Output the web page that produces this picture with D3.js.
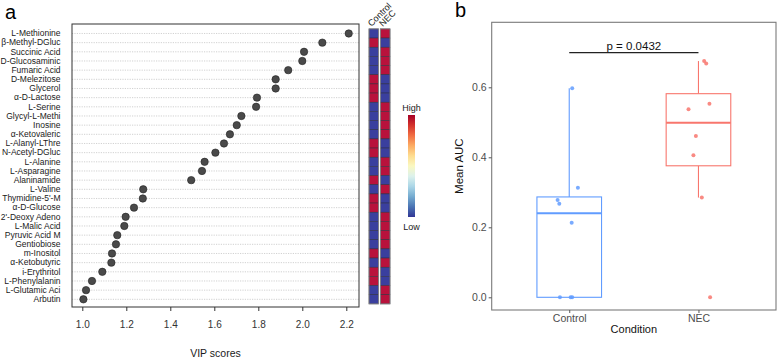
<!DOCTYPE html>
<html>
<head>
<meta charset="utf-8">
<script src="https://cdn.jsdelivr.net/npm/d3@7"></script>
<style>
body{margin:0;background:#fff;font-family:"Liberation Sans",Arial,sans-serif}
</style>
</head>
<body>
<div id="chart"></div>
<script>
// panel a data
const metabolites=["L-Methionine","β-Methyl-DGluc","Succinic Acid","D-Glucosaminic","Fumaric Acid","D-Melezitose","Glycerol","α-D-Lactose","L-Serine","Glycyl-L-Methi","Inosine","α-Ketovaleric","L-Alanyl-LThre","N-Acetyl-DGluc","L-Alanine","L-Asparagine","Alaninamide","L-Valine","Thymidine-5'-M","α-D-Glucose","2'-Deoxy Adeno","L-Malic Acid","Pyruvic Acid M","Gentiobiose","m-Inositol","α-Ketobutyric","i-Erythritol","L-Phenylalanin","L-Glutamic Aci","Arbutin"];
const vipScores=[2.211,2.091,2.008,2.0,1.936,1.879,1.879,1.794,1.79,1.723,1.702,1.671,1.644,1.605,1.556,1.544,1.495,1.277,1.275,1.235,1.197,1.191,1.159,1.153,1.135,1.132,1.091,1.044,1.017,1.005];
const heatControl=[-1,1,-1,-1,-1,1,1,1,-1,-1,-1,-1,1,1,-1,-1,1,-1,1,1,-1,-1,-1,-1,1,-1,1,1,-1,-1];
const heatNEC=[1,-1,1,1,1,-1,-1,-1,1,1,1,1,-1,-1,1,1,-1,1,-1,-1,1,1,1,1,-1,1,-1,-1,1,1];
const vipTicks=[1.0,1.2,1.4,1.6,1.8,2.0,2.2];
const heatGroups=["Control","NEC"];

// panel b data
const conditions=["Control","NEC"];
const aucControl=[0.597,0.313,0.278,0.267,0.213,0,0,0];
const aucNEC=[0.675,0.668,0.553,0.537,0.461,0.406,0.285,0];
const jitterControl=[0.023,0.067,-0.09,-0.077,0.019,-0.072,0.011,0.023];
const jitterNEC=[0.044,0.06,0.085,-0.077,-0.02,-0.039,0.026,0.09];
const aucTicks=[0,0.2,0.4,0.6];
const pLabel="p = 0.0432";
const condColors={"Control":"#619CFF","NEC":"#F8766D"};

const svg=d3.select("#chart").append("svg").attr("width",777).attr("height",359);

// ---------- panel a ----------
const pa={l:72,t:24,r:359,b:307};
const x=d3.scaleLinear().domain([1,2.2]).range([82.3,346.3]);
const y=d3.scaleBand().domain(metabolites).range([28.9,303.9]);
const rows=metabolites.map((m,i)=>({name:m,vip:vipScores[i],Control:heatControl[i],NEC:heatNEC[i]}));

svg.append("text").attr("x",5).attr("y",19).attr("font-size",20).text("a");

svg.append("g").selectAll("line").data(rows).join("line")
  .attr("x1",pa.l).attr("x2",pa.r)
  .attr("y1",d=>y(d.name)+y.bandwidth()/2).attr("y2",d=>y(d.name)+y.bandwidth()/2)
  .attr("stroke","#bdbdbd").attr("stroke-width",0.7).attr("stroke-dasharray","1.2 1.2");

svg.append("rect").attr("x",pa.l).attr("y",pa.t).attr("width",pa.r-pa.l).attr("height",pa.b-pa.t)
  .attr("fill","none").attr("stroke","#333").attr("stroke-width",1);

svg.append("g").selectAll("circle").data(rows).join("circle")
  .attr("cx",d=>x(d.vip)).attr("cy",d=>y(d.name)+y.bandwidth()/2).attr("r",3.7)
  .attr("fill","#4a4a4a").attr("stroke","#222").attr("stroke-width",0.6);

svg.append("g").attr("transform",`translate(${pa.l},0)`)
  .call(d3.axisLeft(y).tickSize(0).tickPadding(11.5))
  .call(s=>s.select(".domain").remove())
  .call(s=>s.selectAll("text").attr("font-size",8.5).attr("fill","#1a1a1a").attr("font-family","Liberation Sans, Arial, sans-serif"));

svg.append("g").attr("transform",`translate(0,${pa.b})`)
  .call(d3.axisBottom(x).tickValues(vipTicks).tickFormat(d3.format(".1f")).tickSize(4).tickPadding(10))
  .call(s=>s.select(".domain").remove())
  .call(s=>s.selectAll("line").attr("stroke","#333"))
  .call(s=>s.selectAll("text").attr("font-size",10).attr("fill","#333").attr("font-family","Liberation Sans, Arial, sans-serif"));

svg.append("text").attr("x",(pa.l+pa.r)/2).attr("y",357).attr("text-anchor","middle")
  .attr("font-size",10.5).attr("fill","#1a1a1a").text("VIP scores");

// heatmap
const hx=d3.scaleBand().domain(heatGroups).range([369,390]).paddingInner(0.15);
const heatColor=d3.scaleSequential(t=>d3.interpolateRdYlBu(1-t)).domain([-1.08,1.08]);
const cells=rows.flatMap(r=>heatGroups.map(g=>({name:r.name,group:g,v:r[g]})));
svg.append("g").selectAll("rect").data(cells).join("rect")
  .attr("x",d=>hx(d.group)).attr("y",d=>y(d.name))
  .attr("width",hx.bandwidth()).attr("height",y.bandwidth())
  .attr("fill",d=>d.v>0?"#b8123c":"#3a3f9e").attr("stroke","#2a2a3a").attr("stroke-width",0.5);
svg.append("g").selectAll("rect").data(heatGroups).join("rect")
  .attr("x",d=>hx(d)).attr("y",y.range()[0])
  .attr("width",hx.bandwidth()).attr("height",y.range()[1]-y.range()[0])
  .attr("fill","none").attr("stroke","#8a8a8a").attr("stroke-width",0.8);
svg.append("g").selectAll("text").data(heatGroups).join("text")
  .attr("transform",d=>`translate(${hx(d)+2.5},27) rotate(-45)`)
  .attr("font-size",9).attr("fill","#1a1a1a").text(d=>d);

// legend
const grad=svg.append("defs").append("linearGradient").attr("id","heatGrad")
  .attr("x1",0).attr("x2",0).attr("y1",0).attr("y2",1);
d3.range(0,1.0001,0.1).forEach(t=>{
  grad.append("stop").attr("offset",t).attr("stop-color",d3.interpolateRdYlBu(t));
});
svg.append("rect").attr("x",408).attr("y",115).attr("width",7).attr("height",102).attr("fill","url(#heatGrad)");
svg.append("text").attr("x",411.5).attr("y",110.5).attr("text-anchor","middle").attr("font-size",9).attr("fill","#1a1a1a").text("High");
svg.append("text").attr("x",411.5).attr("y",229.5).attr("text-anchor","middle").attr("font-size",9).attr("fill","#1a1a1a").text("Low");

// ---------- panel b ----------
const pb={l:491.7,t:22.3,r:776,b:310};
const bx=d3.scalePoint().domain(conditions).range([pb.l,pb.r]).padding(0.6);
const by=d3.scaleLinear().domain([0,0.6]).range([297.3,87.3]);
const step=bx.step();

svg.append("text").attr("x",455).attr("y",17).attr("font-size",20).text("b");

svg.append("rect").attr("x",pb.l).attr("y",pb.t).attr("width",pb.r-pb.l).attr("height",pb.b-pb.t)
  .attr("fill","none").attr("stroke","#7a7a7a").attr("stroke-width",1.1);

svg.append("g").attr("transform",`translate(${pb.l},0)`)
  .call(d3.axisLeft(by).tickValues(aucTicks).tickFormat(d3.format(".1f")).tickSize(3).tickPadding(2))
  .call(s=>s.select(".domain").remove())
  .call(s=>s.selectAll("line").attr("stroke","#555"))
  .call(s=>s.selectAll("text").attr("font-size",10.5).attr("fill","#4d4d4d").attr("font-family","Liberation Sans, Arial, sans-serif"));

svg.append("g").attr("transform",`translate(0,${pb.b})`)
  .call(d3.axisBottom(bx).tickSize(3).tickPadding(2))
  .call(s=>s.select(".domain").remove())
  .call(s=>s.selectAll("line").attr("stroke","#555"))
  .call(s=>s.selectAll("text").attr("font-size",10.5).attr("fill","#4d4d4d").attr("font-family","Liberation Sans, Arial, sans-serif"));

svg.append("text").attr("x",(pb.l+pb.r)/2).attr("y",333).attr("text-anchor","middle")
  .attr("font-size",11).attr("fill","#111").text("Condition");
svg.append("text").attr("transform",`translate(463,${(pb.t+pb.b)/2}) rotate(-90)`)
  .attr("text-anchor","middle").attr("font-size",11.5).attr("fill","#111").text("Mean AUC");

const groupsB=[
  {name:"Control",vals:aucControl,jit:jitterControl},
  {name:"NEC",vals:aucNEC,jit:jitterNEC}
];
groupsB.forEach(g=>{
  const s=g.vals.slice().sort(d3.ascending);
  const q1=d3.quantile(s,0.25),med=d3.quantile(s,0.5),q3=d3.quantile(s,0.75);
  const iqr=q3-q1;
  const hi=d3.max(s.filter(v=>v<=q3+1.5*iqr)),lo=d3.min(s.filter(v=>v>=q1-1.5*iqr));
  const cx=bx(g.name),bw=step*0.5,col=condColors[g.name];
  const gg=svg.append("g");
  gg.append("line").attr("x1",cx).attr("x2",cx).attr("y1",by(q3)).attr("y2",by(hi)).attr("stroke",col).attr("stroke-width",1.1);
  gg.append("line").attr("x1",cx).attr("x2",cx).attr("y1",by(q1)).attr("y2",by(lo)).attr("stroke",col).attr("stroke-width",1.1);
  gg.append("rect").attr("x",cx-bw/2).attr("y",by(q3)).attr("width",bw).attr("height",by(q1)-by(q3))
    .attr("fill","#fff").attr("stroke",col).attr("stroke-width",1.1);
  gg.append("line").attr("x1",cx-bw/2).attr("x2",cx+bw/2).attr("y1",by(med)).attr("y2",by(med)).attr("stroke",col).attr("stroke-width",2);
  gg.selectAll("circle").data(g.vals).join("circle")
    .attr("cx",(d,i)=>cx+g.jit[i]*step).attr("cy",d=>by(d)).attr("r",2)
    .attr("fill",col).attr("opacity",0.85);
});

// significance bracket
const yb=52.7;
svg.append("line").attr("x1",bx("Control")).attr("x2",bx("NEC")).attr("y1",yb).attr("y2",yb)
  .attr("stroke","#222").attr("stroke-width",1.2);
svg.append("text").attr("x",(bx("Control")+bx("NEC"))/2).attr("y",49.5).attr("text-anchor","middle")
  .attr("font-size",11.5).attr("fill","#111").text(pLabel);
</script>
</body>
</html>
